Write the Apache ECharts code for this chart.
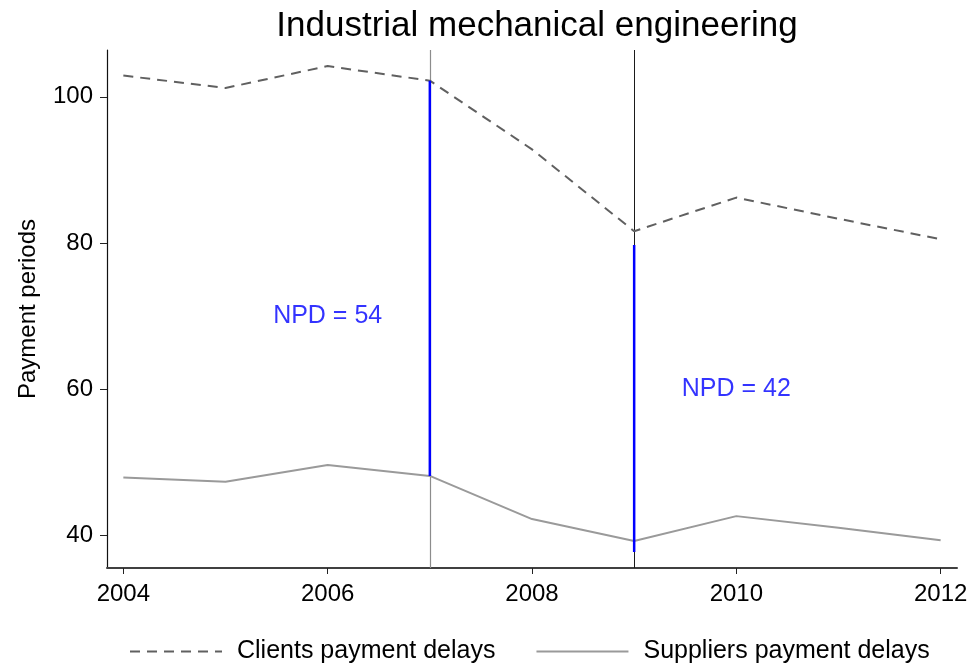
<!DOCTYPE html>
<html>
<head>
<meta charset="utf-8">
<script src="https://cdn.jsdelivr.net/npm/echarts@6/dist/echarts.min.js"></script>
<style>
  html, body { margin: 0; padding: 0; background: #fff; }
  #chart { width: 973px; height: 666px; }
</style>
</head>
<body>
<div id="chart"></div>
<script>
// values
var years = [2004, 2005, 2006, 2007, 2008, 2009, 2010, 2011, 2012]
var clients = [102.9, 101.2, 104.2, 102.2, 92.8, 81.6, 86.2, 83.3, 80.5]
var suppliers = [47.9, 47.3, 49.6, 48.1, 42.2, 39.2, 42.6, 41.0, 39.3]
var xTicks = [2004, 2006, 2008, 2010, 2012]
var yTicks = [40, 60, 80, 100]
// net payment delay bars
var npdYears = [2007, 2009]
var npdTop = [102.2, 79.7]
var npdBottom = [48.1, 37.7]
var npdText = ['NPD = 54', 'NPD = 42']
var npdTextX = [2006, 2010]
var npdTextY = [70, 60]

var font = 'Liberation Sans, Arial, sans-serif'

function pairs (xs, ys) {
  var out = []
  for (var i = 0; i < xs.length; i++) out.push([xs[i], ys[i]])
  return out
}

var series = [
  // full height reference lines, kept under everything else
  {
    name: 'refLines',
    type: 'line',
    data: [],
    z: 1,
    markLine: {
      silent: true,
      symbol: 'none',
      label: { show: false },
      z: 1,
      data: [
        { xAxis: npdYears[0], lineStyle: { color: '#8c8c8c', width: 1.2, type: 'solid' } },
        { xAxis: npdYears[1], lineStyle: { color: '#1a1a1a', width: 1, type: 'solid' } }
      ]
    }
  },
  {
    name: 'Clients payment delays',
    type: 'line',
    data: pairs(years, clients),
    symbol: 'none',
    z: 3,
    color: '#606060',
    lineStyle: { color: '#606060', width: 2, type: [10, 7] }
  },
  {
    name: 'Suppliers payment delays',
    type: 'line',
    data: pairs(years, suppliers),
    symbol: 'none',
    z: 3,
    color: '#9a9a9a',
    lineStyle: { color: '#9a9a9a', width: 2 }
  }
]

for (var i = 0; i < npdYears.length; i++) {
  series.push({
    name: 'npd' + i,
    type: 'line',
    data: [[npdYears[i], npdTop[i]], [npdYears[i], npdBottom[i]]],
    symbol: 'none',
    z: 10,
    color: '#0000ff',
    lineStyle: { color: '#0000ff', width: 2.5 }
  })
}

series.push({
  name: 'npdText',
  type: 'scatter',
  symbolSize: 0,
  z: 11,
  data: pairs(npdTextX, npdTextY).map(function (p, i) {
    return { value: p, label: { formatter: npdText[i] } }
  }),
  label: {
    show: true,
    position: 'inside',
    color: '#0000ff',
    fontSize: 25,
    fontFamily: font
  }
})

var option = {
  animation: false,
  backgroundColor: '#fff',
  title: {
    text: 'Industrial mechanical engineering',
    left: 532,
    textAlign: 'center',
    top: 4,
    textStyle: { fontSize: 35, fontWeight: 'normal', color: '#000', fontFamily: font }
  },
  legend: {
    data: ['Clients payment delays', 'Suppliers payment delays'],
    left: 124,
    top: 634,
    itemWidth: 92,
    itemHeight: 14,
    itemGap: 40,
    itemStyle: { opacity: 0 },
    textStyle: { fontSize: 25, color: '#000', fontFamily: font, padding: [0, 0, 0, 10] }
  },
  grid: { left: 107, right: 16, top: 50, bottom: 98, containLabel: false },
  xAxis: {
    type: 'value',
    min: 2003.84,
    max: 2012.16,
    splitLine: { show: false },
    axisLine: { show: true, lineStyle: { color: '#404040', width: 2 } },
    axisTick: { show: true, customValues: xTicks, length: 6, lineStyle: { color: '#222' } },
    axisLabel: {
      customValues: xTicks,
      formatter: function (v) { return String(v) },
      fontSize: 24, color: '#000', fontFamily: font, margin: 14
    }
  },
  yAxis: {
    type: 'value',
    min: 35.5,
    max: 106.4,
    name: 'Payment periods',
    nameLocation: 'middle',
    nameGap: 67,
    nameTextStyle: { fontSize: 24, color: '#000', fontFamily: font },
    splitLine: { show: false },
    axisLine: { show: true, lineStyle: { color: '#111', width: 1.2 } },
    axisTick: { show: true, customValues: yTicks, length: 7, lineStyle: { color: '#222' } },
    axisLabel: { customValues: yTicks, fontSize: 24, color: '#000', fontFamily: font, margin: 14 }
  },
  series: series
}

var chart = echarts.init(document.getElementById('chart'))
chart.setOption(option)
</script>
</body>
</html>
